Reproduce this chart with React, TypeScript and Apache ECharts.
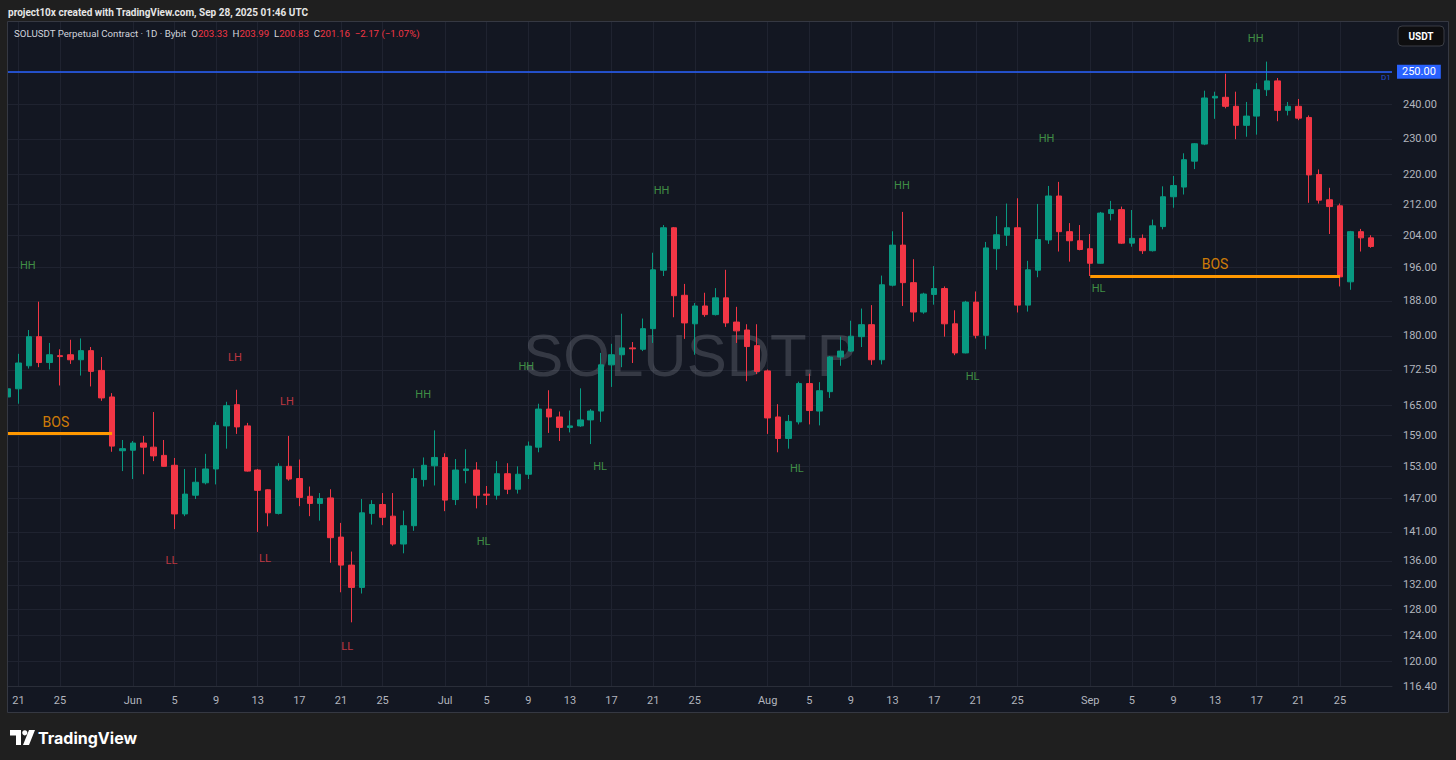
import React, { useEffect, useRef } from 'react';
import * as echarts from 'echarts';

// ---------- categories (daily, 2025-05-20 .. 2025-09-30) ----------
const monthNames = ['Jan', 'Feb', 'Mar', 'Apr', 'May', 'Jun', 'Jul', 'Aug', 'Sep', 'Oct', 'Nov', 'Dec'];
const dates: string[] = (() => {
  const out: string[] = [];
  const d = new Date(Date.UTC(2025, 4, 20));
  const end = Date.UTC(2025, 8, 30);
  while (d.getTime() <= end) {
    out.push(d.toISOString().slice(0, 10));
    d.setUTCDate(d.getUTCDate() + 1);
  }
  return out;
})();
const labelDays = [1, 5, 9, 13, 17, 21, 25];

// ---------- OHLC values [open, high, low, close] ----------
const candles: [number, number, number, number][] = [
  [166.8, 173.0, 164.5, 168.5], [168.5, 176.0, 165.4, 174.0], [173.4, 181.3, 172.8, 179.8], [179.8, 187.8, 173.1, 174.1],
  [174.1, 178.4, 172.6, 175.8], [175.6, 177.0, 169.2, 175.4], [175.8, 179.1, 173.8, 174.7], [174.7, 179.4, 171.3, 176.7],
  [176.7, 177.5, 169.0, 172.2], [172.4, 175.3, 166.0, 166.6], [166.8, 167.6, 155.8, 156.9], [156.0, 158.1, 152.1, 156.4],
  // Jun
  [156.1, 157.9, 150.6, 157.5], [157.5, 158.9, 151.5, 156.7], [156.7, 163.7, 154.0, 155.0], [155.1, 158.1, 152.9, 153.0],
  [153.2, 154.6, 141.5, 144.2], [144.2, 152.5, 143.8, 147.8], [147.6, 152.7, 146.9, 150.0], [149.9, 155.4, 149.6, 152.5],
  [152.5, 161.7, 149.6, 161.0], [160.9, 165.8, 156.4, 165.0], [165.2, 168.3, 159.3, 160.7], [160.9, 161.5, 152.0, 152.1],
  [152.3, 152.5, 141.0, 148.5], [148.6, 148.7, 142.0, 144.4], [144.3, 153.6, 144.1, 153.0], [153.0, 158.9, 150.3, 150.6],
  [150.7, 154.3, 145.6, 147.2], [147.4, 149.2, 143.8, 146.1], [146.1, 148.0, 143.0, 147.0], [147.1, 148.7, 135.7, 140.0],
  [140.1, 142.6, 130.8, 135.3], [135.3, 137.6, 126.0, 131.6], [131.6, 146.9, 130.6, 144.4], [144.3, 146.7, 142.3, 145.9],
  [145.9, 148.0, 142.2, 143.6], [143.8, 148.0, 138.6, 138.9], [138.9, 144.8, 137.3, 142.1], [142.1, 152.6, 141.2, 150.7],
  [150.5, 154.7, 149.2, 153.2], [153.1, 160.0, 149.4, 154.7],
  // Jul
  [154.7, 155.5, 144.7, 146.7], [146.8, 154.4, 145.8, 152.3], [152.2, 156.3, 149.8, 152.5], [152.3, 153.8, 145.2, 147.6],
  [147.8, 149.3, 145.8, 147.6], [147.6, 154.0, 146.8, 151.6], [151.6, 153.6, 147.8, 148.7], [148.7, 153.0, 147.9, 151.5],
  [151.5, 157.8, 150.6, 156.9], [156.7, 165.4, 155.7, 164.3], [164.3, 168.2, 159.5, 162.7], [162.7, 163.8, 157.9, 160.6],
  [160.6, 164.0, 159.6, 160.9], [160.9, 168.6, 160.7, 162.1], [162.1, 164.3, 157.3, 163.9], [163.9, 176.2, 161.7, 173.6],
  [173.6, 178.2, 168.9, 175.8], [175.8, 185.0, 173.1, 177.3], [177.3, 178.6, 174.0, 177.1], [177.0, 183.9, 176.6, 181.6],
  [181.6, 199.6, 178.4, 195.4], [195.3, 206.6, 193.9, 205.9], [205.9, 206.1, 184.2, 189.2], [189.3, 192.0, 179.3, 182.9],
  [182.7, 187.5, 175.8, 186.8], [186.8, 189.9, 184.3, 184.8], [184.8, 191.0, 184.6, 188.7], [188.7, 195.4, 182.0, 182.9],
  [183.1, 186.6, 178.4, 181.1], [181.3, 182.6, 170.1, 177.6], [177.8, 182.6, 171.6, 172.2],
  // Aug
  [172.3, 172.6, 159.3, 162.5], [162.7, 165.3, 155.7, 158.4], [158.4, 163.1, 156.4, 161.8], [161.7, 170.0, 161.2, 169.6],
  [169.6, 171.7, 161.2, 164.0], [163.9, 169.9, 161.0, 168.1], [167.9, 175.5, 166.6, 175.3], [175.3, 179.8, 173.4, 176.6],
  [176.6, 183.4, 176.4, 179.9], [179.8, 186.2, 177.5, 182.5], [182.5, 187.0, 173.6, 174.7], [174.7, 194.0, 173.7, 191.8],
  [191.7, 205.0, 191.4, 201.5], [201.5, 210.0, 186.8, 192.3], [192.3, 198.0, 183.2, 185.4], [185.4, 189.9, 185.0, 189.6],
  [189.5, 196.3, 187.1, 190.9], [190.9, 191.4, 179.8, 182.7], [182.7, 185.8, 175.7, 176.2], [176.2, 188.0, 176.1, 187.7],
  [187.7, 190.2, 179.4, 180.1], [180.1, 202.3, 177.0, 200.8], [200.6, 208.9, 195.4, 204.1], [204.0, 212.2, 201.3, 205.9],
  [205.9, 213.6, 185.3, 187.0], [187.0, 197.6, 185.5, 195.4], [195.3, 212.1, 193.6, 202.9], [202.8, 216.9, 201.8, 214.2],
  [214.2, 218.0, 199.9, 204.9], [204.9, 207.1, 197.4, 202.6], [202.6, 206.6, 200.2, 200.4],
  // Sep
  [200.6, 204.3, 193.9, 197.0], [197.0, 210.0, 196.9, 209.7], [209.6, 212.9, 207.8, 210.6], [210.6, 211.4, 201.8, 202.0],
  [202.0, 210.5, 201.1, 203.2], [203.2, 204.2, 199.3, 200.1], [200.1, 208.0, 199.9, 206.4], [206.2, 216.8, 205.5, 214.0],
  [214.0, 219.6, 211.1, 217.0], [216.6, 225.9, 214.6, 224.1], [223.7, 228.8, 221.5, 228.6], [228.5, 244.2, 228.2, 242.0],
  [242.0, 243.9, 235.8, 242.5], [242.2, 249.4, 238.9, 239.5], [239.5, 243.9, 229.9, 233.9], [233.9, 240.8, 230.6, 236.6],
  [236.6, 246.5, 231.2, 244.5], [244.5, 253.2, 242.6, 247.2], [247.2, 248.1, 235.1, 238.3], [238.3, 240.8, 236.8, 239.5],
  [239.5, 241.7, 235.4, 236.0], [236.2, 236.8, 212.4, 219.9], [220.0, 221.4, 212.2, 213.1], [213.2, 216.4, 204.3, 211.4],
  [211.6, 212.2, 191.4, 193.7], [192.5, 205.1, 190.6, 204.9], [204.9, 205.6, 199.9, 203.33], [203.33, 203.99, 200.83, 201.16],
];

// ---------- price axis ticks ----------
const priceTicks = [116.4, 120, 124, 128, 132, 136, 141, 147, 153, 159, 165, 172.5, 180, 188, 196, 204, 212, 220, 230, 240, 250];
const priceMin = 116.4;
const priceMax = 266.0;

// ---------- levels ----------
const resistanceLevel = 250;
const lastPrice = 201.16;
const countdown = '22:13:11';
const bosLines = [
  { from: '2025-05-20', to: '2025-05-30', price: 159.5 },
  { from: '2025-09-01', to: '2025-09-25', price: 193.9 },
];

// ---------- structure labels (day index, price) ----------
const pivotText = ['HH', 'LH', 'LH', 'HH', 'HH', 'HH', 'HH', 'HH', 'HH', 'LL', 'LL', 'LL', 'HL', 'HL', 'HL', 'HL', 'HL', 'BOS', 'BOS', 'D1'];
const pivotDay = [1.9, 21.8, 26.8, 39.9, 49.8, 62.8, 85.9, 99.8, 119.9, 15.7, 24.7, 32.6, 45.7, 56.9, 75.8, 92.7, 104.8, 4.6, 116.0, 132.4];
const pivotPrice = [196.4, 175.3, 165.8, 167.4, 173.2, 215.6, 216.9, 230.0, 260.5, 136.0, 136.5, 122.2, 139.4, 153.0, 152.5, 171.0, 190.8, 161.7, 196.8, 248.1];

const UP = '#089981';
const DOWN = '#f23645';
const GRID = '#1f2330';
const AXIS_TXT = '#b2b5be';
const FONT = 'Roboto, "Noto Sans", sans-serif';

const labelColor = (t: string) =>
  t === 'BOS' ? '#ff9800' : t === 'D1' ? '#2962ff' : t === 'LH' || t === 'LL' ? '#e8404a' : '#4caf50';

function dayOf(d: string) {
  return parseInt(d.slice(8, 10), 10);
}

export default function App() {
  const ref = useRef<HTMLDivElement>(null);
  useEffect(() => {
    if (!ref.current) return;
    const chart = echarts.init(ref.current, undefined, { renderer: 'svg' });
    const last = candles[candles.length - 1];
    const prevClose = candles[candles.length - 2][3];
    const chg = last[3] - prevClose;
    const pct = (chg / prevClose) * 100;
    const fmtSigned = (v: number, d: number) => (v < 0 ? '−' : '+') + Math.abs(v).toFixed(d);

    const showDay = (idx: number) => {
      const d = dates[idx];
      return !!d && labelDays.includes(dayOf(d));
    };

    const option: any = {
      animation: false,
      backgroundColor: '#131722',
      textStyle: { fontFamily: FONT },
      grid: { left: 8, right: 64, top: 22, bottom: 74, containLabel: false },
      xAxis: [
        {
          type: 'category',
          data: dates,
          boundaryGap: false,
          axisLine: { show: true, lineStyle: { color: '#2a2e39' } },
          axisTick: { show: false },
          axisLabel: {
            interval: (i: number) => showDay(i),
            formatter: (v: string) => {
              const dd = dayOf(v);
              return dd === 1 ? monthNames[parseInt(v.slice(5, 7), 10) - 1] : String(dd);
            },
            color: AXIS_TXT,
            fontSize: 11,
            margin: 9,
            fontFamily: FONT,
          },
          splitLine: { show: true, interval: (i: number) => showDay(i), lineStyle: { color: GRID, width: 1 } },
        },
        { type: 'value', min: 0, max: dates.length - 1, show: false },
      ],
      yAxis: {
        type: 'log',
        logBase: 10,
        min: priceMin,
        max: priceMax,
        position: 'right',
        axisLine: { show: false },
        axisTick: { show: false, customValues: priceTicks },
        axisLabel: {
          customValues: priceTicks,
          formatter: (v: number) => (Math.abs(v - resistanceLevel) < 0.01 ? '' : v.toFixed(2)),
          color: AXIS_TXT,
          fontSize: 11,
          margin: 11,
          fontFamily: FONT,
        },
        splitLine: { show: true, lineStyle: { color: GRID, width: 1 } },
      },
      series: [
        {
          type: 'candlestick',
          xAxisIndex: 0,
          yAxisIndex: 0,
          z: 3,
          barWidth: 6,
          data: candles.map(([o, h, l, c]) => [o, c, l, h]),
          itemStyle: { color: UP, color0: DOWN, borderColor: UP, borderColor0: DOWN, borderWidth: 1 },
          markLine: {
            silent: true,
            symbol: ['none', 'none'],
            animation: false,
            data: [
              {
                yAxis: resistanceLevel,
                lineStyle: { color: '#2962ff', width: 1.5, type: 'solid' },
                label: {
                  show: true,
                  position: 'end',
                  distance: 5,
                  formatter: resistanceLevel.toFixed(2),
                  backgroundColor: '#2962ff',
                  color: '#ffffff',
                  fontSize: 11,
                  padding: [2, 5, 1, 5],
                  fontFamily: FONT,
                },
              },
              ...bosLines.map((b) => [
                { coord: [b.from, b.price], lineStyle: { color: '#ff9800', width: 3, type: 'solid' }, label: { show: false } },
                { coord: [b.to, b.price], lineStyle: { color: '#ff9800', width: 3, type: 'solid' }, label: { show: false } },
              ]),
              {
                yAxis: lastPrice,
                lineStyle: { opacity: 0 },
                label: {
                  show: true,
                  position: 'end',
                  distance: 5,
                  formatter: lastPrice.toFixed(2) + '\n' + countdown,
                  backgroundColor: DOWN,
                  color: '#ffffff',
                  fontSize: 10.5,
                  fontWeight: 'bold',
                  lineHeight: 11,
                  padding: [1, 5, 1, 5],
                  offset: [0, 4],
                  fontFamily: FONT,
                },
              },
            ],
          },
        },
        {
          type: 'scatter',
          xAxisIndex: 1,
          yAxisIndex: 0,
          z: 6,
          silent: true,
          symbol: 'circle',
          symbolSize: 1,
          itemStyle: { color: 'rgba(0,0,0,0)' },
          data: pivotText.map((t, i) => ({
            name: t,
            value: [pivotDay[i], pivotPrice[i]],
            label: {
              color: labelColor(t),
              fontSize: t === 'BOS' ? 14 : t === 'D1' ? 8 : 11,
            },
          })),
          label: { show: true, position: 'inside', formatter: '{b}', fontFamily: FONT },
        },
      ],
      graphic: [
        {
          type: 'text',
          z: 1,
          silent: true,
          x: 690,
          y: 355,
          style: {
            text: 'SOLUSDT.P',
            fill: 'rgba(178,181,190,0.22)',
            fontSize: 60,
            fontFamily: '"Liberation Sans", Arial, sans-serif',
            align: 'center',
            verticalAlign: 'middle',
          },
        },
        // outer frame
        { type: 'rect', z: 100, silent: true, shape: { x: 0, y: 0, width: 1456, height: 22 }, style: { fill: '#1f1f1f' } },
        { type: 'rect', z: 100, silent: true, shape: { x: 0, y: 712, width: 1456, height: 48 }, style: { fill: '#1f1f1f' } },
        { type: 'rect', z: 100, silent: true, shape: { x: 0, y: 0, width: 8, height: 760 }, style: { fill: '#1f1f1f' } },
        { type: 'rect', z: 100, silent: true, shape: { x: 1448, y: 0, width: 8, height: 760 }, style: { fill: '#1f1f1f' } },
        {
          type: 'rect', z: 101, silent: true,
          shape: { x: 7.5, y: 21.5, width: 1441, height: 691 },
          style: { fill: 'none', stroke: '#353842', lineWidth: 1 },
        },
        {
          type: 'text', z: 101, silent: true, x: 8, y: 12,
          style: {
            text: 'project10x created with TradingView.com, Sep 28, 2025 01:46 UTC',
            fill: '#e6e6e6', fontSize: 10, fontWeight: 'bold', fontFamily: FONT, verticalAlign: 'middle',
          },
        },
        {
          type: 'text', z: 101, silent: true, x: 14, y: 33,
          style: {
            text:
              '{t|SOLUSDT Perpetual Contract · 1D · Bybit}  {k|O}{v|' + last[0].toFixed(2) + '}  {k|H}{v|' + last[1].toFixed(2) +
              '}  {k|L}{v|' + last[2].toFixed(2) + '}  {k|C}{v|' + last[3].toFixed(2) + '}  {v|' + fmtSigned(chg, 2) + ' (' + fmtSigned(pct, 2) + '%)}',
            verticalAlign: 'middle',
            fontFamily: FONT,
            fontSize: 9.7,
            rich: {
              t: { fill: '#d1d4dc', fontSize: 9.7, fontFamily: FONT },
              k: { fill: '#d1d4dc', fontSize: 9.7, fontFamily: FONT },
              v: { fill: DOWN, fontSize: 9.7, fontFamily: FONT },
            },
          },
        },
        {
          type: 'rect', z: 101, silent: true,
          shape: { x: 1398, y: 26, width: 46, height: 20, r: 4 },
          style: { fill: '#0e0e10', stroke: '#3a3d45', lineWidth: 1 },
        },
        {
          type: 'text', z: 102, silent: true, x: 1421, y: 36,
          style: { text: 'USDT', fill: '#ffffff', fontSize: 10, fontWeight: 'bold', fontFamily: FONT, align: 'center', verticalAlign: 'middle' },
        },
        // TradingView logo
        {
          type: 'polygon', z: 101, silent: true,
          shape: { points: [[10, 730], [21, 730], [21, 745], [16, 745], [16, 735.5], [10, 735.5]] },
          style: { fill: '#ffffff' },
        },
        { type: 'circle', z: 101, silent: true, shape: { cx: 24.8, cy: 732.8, r: 2.6 }, style: { fill: '#ffffff' } },
        {
          type: 'polygon', z: 101, silent: true,
          shape: { points: [[29, 730], [35, 730], [29, 745], [23, 745]] },
          style: { fill: '#ffffff' },
        },
        {
          type: 'text', z: 101, silent: true, x: 38, y: 737.5,
          style: { text: 'TradingView', fill: '#ffffff', fontSize: 16, fontWeight: 'bold', fontFamily: 'Inter, Roboto, sans-serif', verticalAlign: 'middle' },
        },
      ],
    };
    chart.setOption(option);
    return () => chart.dispose();
  }, []);
  return <div ref={ref} style={{ position: 'fixed', left: 0, top: 0, width: 1456, height: 760 }} />;
}
